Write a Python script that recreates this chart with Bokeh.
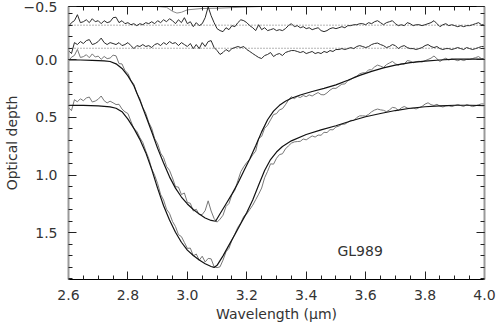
from bokeh.plotting import figure
from bokeh.models import (Range1d, LinearAxis, FixedTicker, CustomJSTickFormatter,
                          PrintfTickFormatter, Span, Label)
from bokeh.embed import file_html
from bokeh.resources import INLINE

# ---------------- data ----------------
WL = [round(2.60 + 0.01 * i, 2) for i in range(141)]

RESID_TOP = [
    -0.287, -0.322, -0.339, -0.391, -0.322, -0.330, -0.347, -0.322, -0.356, -0.330,
    -0.339, -0.313, -0.339, -0.322, -0.330, -0.365, -0.369, -0.322, -0.339, -0.313,
    -0.322, -0.304, -0.313, -0.296, -0.313, -0.304, -0.322, -0.313, -0.330, -0.313,
    -0.339, -0.322, -0.347, -0.330, -0.356, -0.339, -0.313, -0.347, -0.322, -0.365,
    -0.313, -0.330, -0.287, -0.322, -0.296, -0.313, -0.365, -0.459, -0.382, -0.322,
    -0.270, -0.253, -0.244, -0.278, -0.261, -0.296, -0.287, -0.322, -0.347, -0.339,
    -0.322, -0.296, -0.278, -0.253, -0.304, -0.261, -0.278, -0.253, -0.261, -0.270,
    -0.253, -0.261, -0.253, -0.270, -0.296, -0.313, -0.287, -0.296, -0.278, -0.287,
    -0.270, -0.278, -0.261, -0.270, -0.278, -0.253, -0.244, -0.253, -0.270, -0.278,
    -0.270, -0.278, -0.287, -0.278, -0.296, -0.296, -0.304, -0.304, -0.313, -0.313,
    -0.304, -0.322, -0.313, -0.330, -0.339, -0.322, -0.304, -0.322, -0.330, -0.339,
    -0.313, -0.296, -0.304, -0.296, -0.322, -0.313, -0.296, -0.304, -0.304, -0.296,
    -0.304, -0.313, -0.322, -0.339, -0.313, -0.287, -0.304, -0.313, -0.296, -0.304,
    -0.296, -0.287, -0.296, -0.287, -0.296, -0.296, -0.304, -0.313, -0.322, -0.304,
    -0.304]

RESID_MID = [
    -0.080, -0.054, -0.149, -0.132, -0.158, -0.141, -0.166, -0.175, -0.132, -0.141,
    -0.158, -0.188, -0.149, -0.132, -0.149, -0.141, -0.132, -0.149, -0.123, -0.132,
    -0.149, -0.123, -0.097, -0.123, -0.115, -0.132, -0.115, -0.123, -0.106, -0.132,
    -0.141, -0.123, -0.149, -0.132, -0.158, -0.141, -0.149, -0.123, -0.149, -0.132,
    -0.115, -0.141, -0.097, -0.132, -0.097, -0.149, -0.115, -0.158, -0.166, -0.106,
    -0.080, -0.046, -0.063, -0.089, -0.072, -0.097, -0.106, -0.115, -0.106, -0.115,
    -0.089, -0.072, -0.054, -0.037, -0.020, -0.011, -0.037, -0.046, -0.063, -0.028,
    -0.046, -0.054, -0.037, -0.063, -0.072, -0.080, -0.080, -0.072, -0.063, -0.072,
    -0.054, -0.063, -0.072, -0.054, -0.063, -0.054, -0.072, -0.063, -0.080, -0.072,
    -0.089, -0.089, -0.097, -0.089, -0.097, -0.106, -0.097, -0.115, -0.123, -0.115,
    -0.106, -0.115, -0.132, -0.141, -0.145, -0.132, -0.123, -0.106, -0.115, -0.132,
    -0.123, -0.097, -0.115, -0.123, -0.106, -0.097, -0.097, -0.089, -0.097, -0.106,
    -0.123, -0.132, -0.115, -0.106, -0.115, -0.097, -0.089, -0.097, -0.097, -0.089,
    -0.097, -0.106, -0.097, -0.089, -0.106, -0.097, -0.089, -0.097, -0.106, -0.115,
    -0.115]

DATA_1 = [
    0.013, -0.022, -0.038, -0.090, -0.020, -0.027, -0.044, -0.018, -0.051, -0.024,
    -0.032, -0.004, -0.029, -0.010, -0.015, -0.040, -0.034, 0.033, 0.036, 0.094,
    0.118, 0.178, 0.212, 0.291, 0.337, 0.413, 0.463, 0.542, 0.594, 0.683,
    0.729, 0.809, 0.848, 0.925, 0.959, 1.025, 1.100, 1.104, 1.168, 1.155,
    1.237, 1.244, 1.311, 1.296, 1.342, 1.342, 1.307, 1.223, 1.311, 1.376,
    1.408, 1.382, 1.348, 1.272, 1.246, 1.169, 1.130, 1.048, 0.970, 0.926,
    0.890, 0.864, 0.824, 0.792, 0.681, 0.664, 0.594, 0.567, 0.521, 0.475,
    0.467, 0.434, 0.424, 0.390, 0.350, 0.320, 0.337, 0.318, 0.327, 0.310,
    0.320, 0.304, 0.314, 0.298, 0.284, 0.302, 0.304, 0.287, 0.263, 0.247,
    0.248, 0.230, 0.211, 0.210, 0.182, 0.171, 0.153, 0.142, 0.122, 0.113,
    0.113, 0.087, 0.087, 0.062, 0.046, 0.055, 0.066, 0.042, 0.028, 0.014,
    0.034, 0.047, 0.034, 0.038, 0.007, 0.012, 0.026, 0.016, 0.013, 0.019,
    0.008, -0.003, -0.014, -0.033, -0.009, 0.015, -0.003, -0.014, 0.002, -0.008,
    -0.001, 0.008, -0.002, 0.007, -0.003, -0.003, -0.011, -0.019, -0.028, -0.009,
    -0.009]

DATA_2 = [
    0.415, 0.441, 0.346, 0.364, 0.338, 0.355, 0.331, 0.323, 0.366, 0.358,
    0.342, 0.314, 0.355, 0.374, 0.359, 0.373, 0.388, 0.386, 0.427, 0.451,
    0.466, 0.532, 0.598, 0.620, 0.675, 0.716, 0.790, 0.855, 0.944, 1.001,
    1.074, 1.167, 1.216, 1.296, 1.332, 1.402, 1.446, 1.516, 1.533, 1.584,
    1.635, 1.633, 1.700, 1.684, 1.738, 1.703, 1.753, 1.722, 1.726, 1.794,
    1.802, 1.795, 1.737, 1.665, 1.635, 1.564, 1.509, 1.452, 1.413, 1.357,
    1.336, 1.298, 1.261, 1.213, 1.165, 1.112, 1.023, 0.967, 0.902, 0.905,
    0.854, 0.822, 0.815, 0.773, 0.747, 0.723, 0.712, 0.709, 0.707, 0.687,
    0.694, 0.677, 0.660, 0.670, 0.653, 0.654, 0.629, 0.631, 0.606, 0.607,
    0.583, 0.575, 0.559, 0.558, 0.542, 0.525, 0.527, 0.501, 0.486, 0.486,
    0.488, 0.473, 0.451, 0.436, 0.427, 0.434, 0.438, 0.450, 0.435, 0.413,
    0.417, 0.439, 0.417, 0.405, 0.418, 0.423, 0.420, 0.426, 0.415, 0.404,
    0.384, 0.373, 0.389, 0.396, 0.386, 0.402, 0.409, 0.400, 0.399, 0.406,
    0.397, 0.388, 0.397, 0.405, 0.388, 0.397, 0.406, 0.399, 0.390, 0.382,
    0.383]

FIT1_WL = [2.60, 2.64, 2.68, 2.72, 2.74, 2.76, 2.78, 2.80, 2.82, 2.84, 2.86, 2.88,
           2.90, 2.92, 2.94, 2.96, 2.98, 3.00, 3.02, 3.04, 3.06, 3.08, 3.095, 3.11,
           3.13, 3.15, 3.17, 3.19, 3.21, 3.23, 3.25, 3.27, 3.29, 3.31, 3.33, 3.35,
           3.38, 3.42, 3.46, 3.50, 3.54, 3.58, 3.62, 3.66, 3.70, 3.75, 3.80, 3.85,
           3.90, 3.95, 4.00]
FIT1_TAU = [0.000, 0.002, 0.005, 0.010, 0.015, 0.035, 0.075, 0.140, 0.225, 0.350,
            0.485, 0.624, 0.768, 0.895, 1.015, 1.113, 1.190, 1.250, 1.298, 1.338,
            1.372, 1.393, 1.400, 1.335, 1.250, 1.165, 1.070, 0.965, 0.860, 0.745,
            0.625, 0.520, 0.445, 0.395, 0.360, 0.333, 0.305, 0.275, 0.248, 0.218,
            0.178, 0.135, 0.100, 0.070, 0.047, 0.025, 0.012, 0.002, -0.005, -0.007,
            -0.005]

FIT2_WL = [2.60, 2.65, 2.70, 2.74, 2.76, 2.78, 2.80, 2.82, 2.84, 2.86, 2.88, 2.90,
           2.92, 2.94, 2.96, 2.98, 3.00, 3.02, 3.04, 3.06, 3.08, 3.09, 3.10, 3.12,
           3.14, 3.16, 3.18, 3.20, 3.22, 3.24, 3.26, 3.28, 3.30, 3.32, 3.35, 3.40,
           3.45, 3.50, 3.55, 3.60, 3.65, 3.70, 3.75, 3.80, 3.85, 3.90, 3.95, 4.00]
FIT2_TAU = [0.395, 0.396, 0.400, 0.408, 0.420, 0.450, 0.515, 0.595, 0.690, 0.805,
            0.950, 1.115, 1.265, 1.390, 1.495, 1.582, 1.650, 1.697, 1.735, 1.768,
            1.792, 1.800, 1.782, 1.700, 1.607, 1.515, 1.419, 1.325, 1.215, 1.085,
            0.960, 0.865, 0.800, 0.752, 0.703, 0.648, 0.608, 0.572, 0.531, 0.494,
            0.466, 0.440, 0.420, 0.407, 0.399, 0.394, 0.394, 0.398]

REF_WL = [2.60, 2.90, 2.93, 2.95, 2.965, 2.98, 3.00, 3.05, 3.10, 3.15, 3.20, 3.25,
          3.30, 4.00]
REF_TAU = [-0.462, -0.462, -0.455, -0.420, -0.405, -0.412, -0.433, -0.445, -0.447,
           -0.452, -0.458, -0.462, -0.462, -0.462]

BASELINES = [-0.3, -0.1]
X_TICKS = [2.6, 2.8, 3.0, 3.2, 3.4, 3.6, 3.8, 4.0]
X_MINOR = [round(2.6 + 0.05 * i, 2) for i in range(29)]
Y_TOP = -0.462
Y_TICKS = [Y_TOP, 0.0, 0.5, 1.0, 1.5]
Y_MINOR = [round(-0.4 + 0.1 * i, 1) for i in range(24)]
SOURCE_NAME = "GL989"

# ---------------- figure ----------------
FONT = "DejaVu Sans"
TXT = "#333333"

p = figure(width=497, height=326, output_backend="svg", toolbar_location=None,
           x_range=Range1d(2.6, 4.0), y_range=Range1d(1.905, Y_TOP),
           min_border_left=67, min_border_right=13, min_border_top=6,
           min_border_bottom=47)
p.outline_line_color = None
p.xgrid.visible = False
p.ygrid.visible = False
p.background_fill_color = "white"
p.border_fill_color = "white"

xt = FixedTicker(ticks=X_TICKS, minor_ticks=X_MINOR)
yt = FixedTicker(ticks=Y_TICKS, minor_ticks=Y_MINOR)
blank = CustomJSTickFormatter(code="return '';")


def style(ax, color="black", width=1):
    ax.major_tick_in = 8
    ax.major_tick_out = 0
    ax.minor_tick_in = 4
    ax.minor_tick_out = 0
    ax.major_tick_line_color = "#222222"
    ax.minor_tick_line_color = "#222222"
    ax.axis_line_color = color
    ax.axis_line_width = width
    ax.major_label_text_font = FONT
    ax.major_label_text_font_size = "14px"
    ax.major_label_text_color = TXT
    ax.axis_label_text_font = FONT
    ax.axis_label_text_font_size = "14px"
    ax.axis_label_text_font_style = "normal"
    ax.axis_label_text_color = TXT


xa = p.xaxis[0]
xa.ticker = xt
xa.formatter = PrintfTickFormatter(format="%.1f")
xa.axis_label = "Wavelength (\u03bcm)"
style(xa)
xa.major_label_standoff = 10
xa.axis_label_standoff = 3

ya = p.yaxis[0]
ya.ticker = yt
# the topmost tick sits at the frame edge and carries the "-0.5" label
ya.formatter = CustomJSTickFormatter(
    code="return tick < -0.4 ? '\u22120.5' : tick.toFixed(1);")
ya.axis_label = "Optical depth"
style(ya, "#9a9a9a", 2)
ya.major_label_standoff = 11
ya.axis_label_standoff = 1

top = LinearAxis(ticker=xt, formatter=blank, major_label_standoff=0)
style(top)
p.add_layout(top, "above")

right = LinearAxis(ticker=yt, formatter=blank, major_label_standoff=0)
style(right, "#9a9a9a", 2)
p.add_layout(right, "right")

for b in BASELINES:
    p.add_layout(Span(location=b, dimension="width", line_color="#444444",
                      line_dash="1 2", line_width=0.8))

p.line(REF_WL, REF_TAU, line_color="#8a8a8a", line_width=1)
p.line(WL, RESID_TOP, line_color="#2a2a2a", line_width=1)
p.line(WL, RESID_MID, line_color="#2a2a2a", line_width=1)
p.line(WL, DATA_1, line_color="#777777", line_width=1)
p.line(WL, DATA_2, line_color="#777777", line_width=1)
p.line(FIT1_WL, FIT1_TAU, line_color="#111111", line_width=1.2)
p.line(FIT2_WL, FIT2_TAU, line_color="#111111", line_width=1.2)

p.add_layout(Label(x=3.505, y=1.659, text=SOURCE_NAME, text_font=FONT,
                   text_font_size="14px", text_color=TXT, text_baseline="middle"))

open("out.html", "w").write(file_html(p, INLINE))
